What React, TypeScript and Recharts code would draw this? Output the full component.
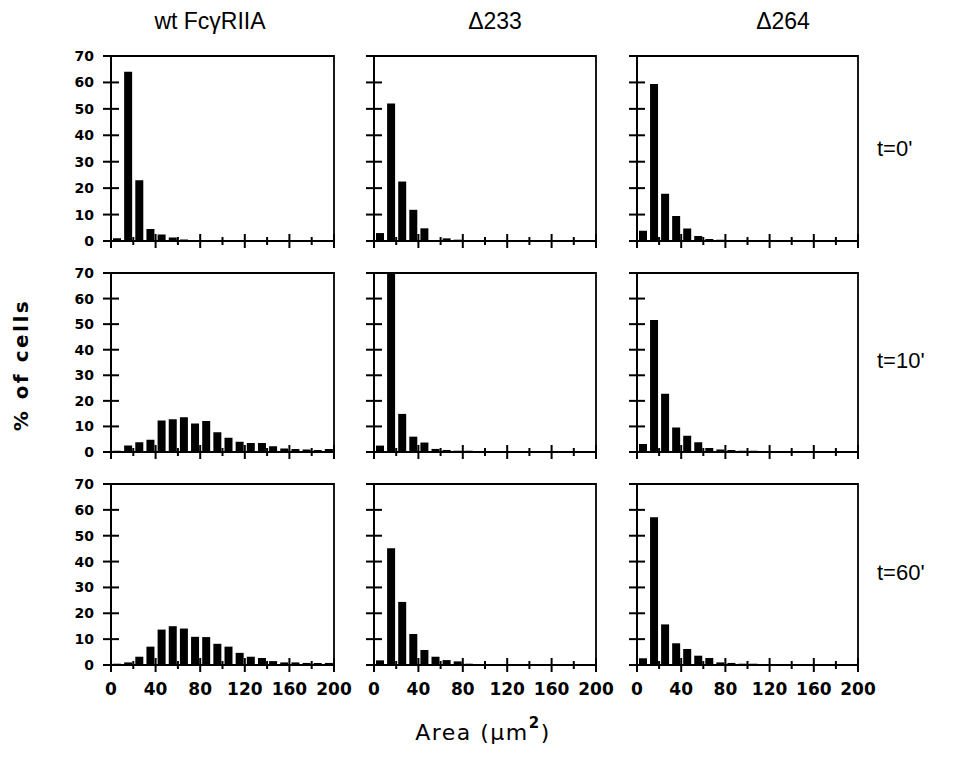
import React from 'react';
import { BarChart, Bar, XAxis, YAxis, ReferenceArea } from 'recharts';

// bin centres (10 µm² bins), shared by every panel
const BINS = [5, 15, 25, 35, 45, 55, 65, 75, 85, 95, 105, 115, 125, 135, 145, 155, 165, 175, 185, 195];
const X_TICKS = [0, 20, 40, 60, 80, 100, 120, 140, 160, 180, 200];
const Y_TICKS = [0, 10, 20, 30, 40, 50, 60, 70];

// % of cells per bin
const WT_T0 = [1, 64, 23, 4.5, 2.5, 1.3, 0.6, 0.3, 0.3, 0.3, 0.2, 0.3, 0.2, 0.2, 0.1, 0.1, 0.2, 0.1, 0.1, 0.1];
const WT_T10 = [0.5, 2.5, 3.8, 4.8, 12.3, 12.8, 13.6, 11.1, 12.1, 7.7, 5.6, 4, 3.5, 3.5, 2.2, 1.4, 1.2, 1, 0.8, 1.2];
const WT_T60 = [0.5, 1, 3.2, 7.1, 13.7, 15, 14.1, 10.9, 10.8, 8.2, 7.1, 4.7, 3.2, 2.7, 1.5, 1, 1, 0.8, 0.8, 0.8];
const D233_T0 = [3, 52, 22.5, 11.8, 4.8, 0.3, 1, 0.5, 0.3, 0.3, 0.2, 0.2, 0.2, 0.2, 0.2, 0.1, 0.1, 0.1, 0.1, 0.1];
const D233_T10 = [2.5, 70, 14.9, 6, 3.7, 1.2, 0.8, 0.5, 0.5, 0.3, 0.2, 0.2, 0.2, 0.1, 0.1, 0.1, 0.1, 0.1, 0.1, 0.1];
const D233_T60 = [1.8, 45.2, 24.4, 12, 5.8, 3.2, 1.9, 1.4, 0.5, 0.3, 0.3, 0.2, 0.2, 0.2, 0.1, 0.1, 0.1, 0.1, 0.1, 0.1];
const D264_T0 = [3.9, 59.4, 17.9, 9.5, 4.7, 1.9, 0.8, 0.5, 0.3, 0.3, 0.2, 0.2, 0.2, 0.1, 0.1, 0.1, 0.1, 0.1, 0.1, 0.1];
const D264_T10 = [3.1, 51.6, 22.8, 9.6, 6.4, 3.8, 1.6, 1, 0.8, 0.5, 0.5, 0.3, 0.3, 0.2, 0.2, 0.1, 0.1, 0.1, 0.1, 0.1];
const D264_T60 = [2.6, 57.1, 15.7, 8.4, 6.2, 3.6, 2.7, 1, 0.8, 0.5, 0.5, 0.3, 0.3, 0.2, 0.2, 0.1, 0.1, 0.1, 0.1, 0.1];

const COL_TITLES = ['wt FcγRIIA', 'Δ233', 'Δ264'];
const ROW_TITLES = ["t=0'", "t=10'", "t=60'"];

const GRID = [
  [WT_T0, D233_T0, D264_T0],
  [WT_T10, D233_T10, D264_T10],
  [WT_T60, D233_T60, D264_T60],
];

// plot-area boxes on the page
const COLS = [{ x: 111, w: 223 }, { x: 374, w: 222 }, { x: 637, w: 221 }];
const ROWS = [{ y: 56, h: 185 }, { y: 273, h: 179 }, { y: 484, h: 181 }];
const TITLE_X = [210, 495, 783];
const ROW_LABEL_Y = [156, 368, 580];

const Y_AXIS_W = 40;
const X_AXIS_H = 30;
const PAD = 10;
const PAD_RIGHT = 24;
const TICK_FONT = '"DejaVu Sans", sans-serif';

function XTick({ x, y, payload, showLabel }: any) {
  const major = payload.value % 40 === 0;
  const len = major ? 7 : 4;
  return (
    <g>
      <line x1={x} x2={x} y1={y - len} y2={y + len} stroke="#000" strokeWidth={2} />
      {showLabel && major && (
        <text x={x} y={y + 30} textAnchor="middle" fontFamily={TICK_FONT} fontWeight="bold" fontSize={17} fill="#000">
          {payload.value}
        </text>
      )}
    </g>
  );
}

function YTick({ x, y, payload, showLabel }: any) {
  return (
    <g>
      <line x1={x - 8} x2={x + 8} y1={y} y2={y} stroke="#000" strokeWidth={2} />
      {showLabel && (
        <text x={x - 17} y={y + 5} textAnchor="end" fontFamily={TICK_FONT} fontWeight="bold" fontSize={14} fill="#000">
          {payload.value}
        </text>
      )}
    </g>
  );
}

function Panel({ values, col, row }: { values: number[]; col: number; row: number }) {
  const data = BINS.map((b, i) => ({ bin: b, pct: values[i] }));
  const { x, w } = COLS[col];
  const { y, h } = ROWS[row];
  const showY = col === 0;
  const showX = row === 2;
  return (
    <div style={{ position: 'absolute', left: x - Y_AXIS_W - PAD, top: y - PAD }}>
      <BarChart
        width={w + Y_AXIS_W + PAD + PAD_RIGHT}
        height={h + X_AXIS_H + 2 * PAD}
        data={data}
        margin={{ top: PAD, right: PAD_RIGHT, bottom: PAD, left: PAD }}
        barSize={8}
      >
        <XAxis
          xAxisId="num"
          dataKey="bin"
          type="number"
          domain={[0, 200]}
          ticks={X_TICKS}
          interval={0}
          allowDataOverflow
          height={X_AXIS_H}
          tickSize={0}
          tickMargin={0}
          tickLine={false}
          axisLine={{ stroke: '#000', strokeWidth: 2 }}
          tick={(p: any) => <XTick {...p} showLabel={showX} />}
        />
        <XAxis xAxisId="bin" dataKey="bin" type="category" height={0} hide />
        <YAxis
          type="number"
          domain={[0, 70]}
          ticks={Y_TICKS}
          interval={0}
          allowDataOverflow
          width={Y_AXIS_W}
          tickSize={0}
          tickMargin={0}
          tickLine={false}
          axisLine={{ stroke: '#000', strokeWidth: 2 }}
          tick={(p: any) => <YTick {...p} showLabel={showY} />}
        />
        <ReferenceArea
          xAxisId="num"
          x1={0}
          x2={200}
          y1={0}
          y2={70}
          fill="none"
          stroke="#000"
          strokeWidth={1.8}
          ifOverflow="visible"
        />
        <Bar xAxisId="bin" dataKey="pct" fill="#000" isAnimationActive={false} />
      </BarChart>
    </div>
  );
}

export default function App() {
  return (
    <div style={{ position: 'absolute', left: 0, top: 0, width: 953, height: 759, background: '#fff' }}>
      {GRID.map((rowVals, r) =>
        rowVals.map((vals, c) => <Panel key={`${r}-${c}`} values={vals} col={c} row={r} />)
      )}
      <svg width={953} height={759} style={{ position: 'absolute', left: 0, top: 0, pointerEvents: 'none' }}>
        {COL_TITLES.map((t, i) => (
          <text
            key={t}
            x={TITLE_X[i]}
            y={29}
            textAnchor="middle"
            fontFamily='"Liberation Sans Narrow", "Liberation Sans", sans-serif'
            fontSize={23}
            fill="#000"
          >
            {t}
          </text>
        ))}
        {ROW_TITLES.map((t, i) => (
          <text key={t} x={877} y={ROW_LABEL_Y[i]} fontFamily='"Liberation Sans", sans-serif' fontSize={22} fill="#000">
            {t}
          </text>
        ))}
        <text
          transform="translate(28, 365) rotate(-90)"
          textAnchor="middle"
          fontFamily={TICK_FONT}
          fontWeight="bold"
          fontSize={20}
          letterSpacing={2.5}
          fill="#000"
        >
          % of cells
        </text>
        <text x={483} y={740} textAnchor="middle" fontFamily={TICK_FONT} fontSize={22} letterSpacing={1.5} fill="#000">
          Area (μm
          <tspan dy={-12} fontSize={15} fontWeight="bold">2</tspan>
          <tspan dy={12}>)</tspan>
        </text>
      </svg>
    </div>
  );
}
